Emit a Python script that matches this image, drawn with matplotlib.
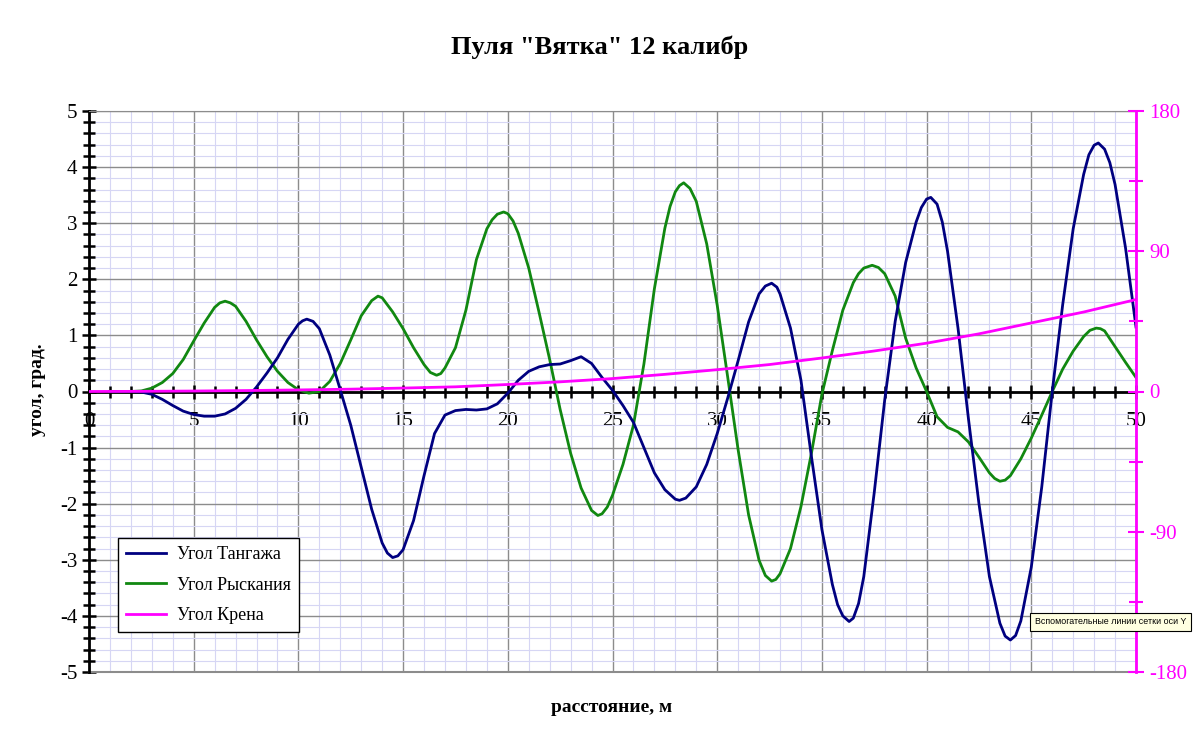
import matplotlib
matplotlib.use("Agg")
import matplotlib.pyplot as plt
from matplotlib.ticker import MultipleLocator

plt.rcParams['font.family'] = ['Liberation Serif', 'DejaVu Serif']
plt.rcParams['axes.unicode_minus'] = False

# Угол Тангажа (левая ось, град.)
pitch_x = [1, 1.5, 2, 2.5, 3, 3.5, 4, 4.5, 5, 5.5, 6, 6.5, 7, 7.5, 8, 8.5, 9, 9.5, 10, 10.2,
           10.4, 10.7, 11, 11.5, 12, 12.5, 13, 13.5, 14, 14.25, 14.5, 14.75, 15, 15.5, 16,
           16.5, 17, 17.5, 18, 18.5, 19, 19.5, 20, 20.5, 21, 21.5, 22, 22.5, 23, 23.5, 24,
           24.5, 25, 25.5, 26, 26.5, 27, 27.5, 28, 28.2, 28.5, 29, 29.5, 30, 30.5, 31, 31.5,
           32, 32.3, 32.6, 32.85, 33, 33.5, 34, 34.5, 35, 35.5, 35.75, 36, 36.3, 36.5, 36.75,
           37, 37.5, 38, 38.5, 39, 39.5, 39.75, 40, 40.2, 40.5, 40.75, 41, 41.5, 42, 42.5, 43,
           43.5, 43.75, 44, 44.25, 44.5, 45, 45.5, 46, 46.5, 47, 47.5, 47.75, 48, 48.2, 48.5,
           48.75, 49, 49.5, 50]
pitch_y = [0, 0, 0, -0.01, -0.05, -0.14, -0.25, -0.35, -0.41, -0.44, -0.44, -0.4, -0.3, -0.14,
           0.08, 0.33, 0.6, 0.93, 1.2, 1.26, 1.29, 1.25, 1.12, 0.65, 0.03, -0.6, -1.35, -2.1,
           -2.7, -2.88, -2.96, -2.93, -2.82, -2.3, -1.5, -0.75, -0.42, -0.34, -0.32, -0.33,
           -0.31, -0.22, -0.03, 0.2, 0.36, 0.44, 0.48, 0.49, 0.55, 0.62, 0.5, 0.25, 0.02,
           -0.25, -0.55, -1.0, -1.45, -1.75, -1.92, -1.94, -1.9, -1.7, -1.3, -0.75, -0.12,
           0.55, 1.24, 1.74, 1.88, 1.93, 1.86, 1.74, 1.13, 0.2, -1.16, -2.46, -3.44, -3.8,
           -4.0, -4.1, -4.04, -3.78, -3.3, -1.8, -0.15, 1.25, 2.3, 3.02, 3.28, 3.43, 3.46,
           3.34, 3.02, 2.5, 1.13, -0.49, -2.0, -3.3, -4.13, -4.36, -4.43, -4.35, -4.09, -3.13,
           -1.7, 0.0, 1.55, 2.9, 3.87, 4.22, 4.39, 4.43, 4.32, 4.08, 3.69, 2.56, 1.15]

# Угол Рыскания (левая ось, град.)
yaw_x = [1, 1.5, 2, 2.5, 3, 3.5, 4, 4.5, 5, 5.5, 6, 6.25, 6.5, 6.75, 7, 7.5, 8, 8.5, 9, 9.5,
         10, 10.5, 11, 11.5, 12, 12.5, 13, 13.5, 13.8, 14, 14.5, 15, 15.5, 16, 16.3, 16.6,
         16.8, 17, 17.5, 18, 18.5, 19, 19.25, 19.5, 19.8, 20, 20.25, 20.5, 21, 21.5, 22, 22.5,
         23, 23.5, 24, 24.3, 24.5, 24.75, 25, 25.5, 26, 26.5, 27, 27.5, 27.75, 28, 28.2, 28.4,
         28.7, 29, 29.5, 30, 30.5, 31, 31.5, 32, 32.3, 32.6, 32.8, 33, 33.5, 34, 34.5, 35,
         35.5, 36, 36.5, 36.75, 37, 37.4, 37.7, 38, 38.5, 39, 39.5, 40, 40.5, 41, 41.5, 42,
         42.5, 43, 43.25, 43.5, 43.75, 44, 44.5, 45, 45.5, 46, 46.5, 47, 47.5, 47.8, 48.1,
         48.3, 48.5, 49, 49.5, 50]
yaw_y = [0, 0, 0, 0.01, 0.06, 0.16, 0.32, 0.57, 0.9, 1.22, 1.5, 1.58, 1.61, 1.58, 1.52, 1.25,
         0.92, 0.62, 0.36, 0.16, 0.03, -0.03, 0.0, 0.18, 0.5, 0.92, 1.35, 1.62, 1.7, 1.67,
         1.42, 1.12, 0.78, 0.48, 0.34, 0.29, 0.32, 0.42, 0.78, 1.45, 2.35, 2.9, 3.06, 3.16,
         3.2, 3.17, 3.04, 2.82, 2.2, 1.4, 0.57, -0.32, -1.1, -1.72, -2.12, -2.21, -2.18,
         -2.06, -1.85, -1.3, -0.6, 0.49, 1.83, 2.91, 3.3, 3.56, 3.67, 3.72, 3.62, 3.39, 2.63,
         1.54, 0.26, -1.04, -2.2, -3.01, -3.28, -3.38, -3.35, -3.25, -2.8, -2.05, -1.1,
         -0.05, 0.73, 1.45, 1.94, 2.1, 2.2, 2.25, 2.21, 2.1, 1.7, 0.95, 0.42, 0.0, -0.45,
         -0.64, -0.72, -0.9, -1.17, -1.45, -1.55, -1.6, -1.58, -1.5, -1.2, -0.83, -0.42, 0.0,
         0.4, 0.72, 0.98, 1.09, 1.13, 1.12, 1.08, 0.8, 0.52, 0.25]

# Угол Крена (правая ось, град.)
roll_x = [0, 2.5, 5, 7.5, 10, 12.5, 15, 17.5, 20, 22.5, 25, 27.5, 30, 32.5, 35, 37.5, 40,
          42.5, 45, 47.5, 50]
roll_y = [0, 0.1, 0.3, 0.6, 1.0, 1.5, 2.2, 3.0, 4.5, 6.2, 8.3, 11.0, 14.0, 17.3, 21.5, 26.0,
          31.0, 37.0, 44.0, 51.0, 59.0]

fig = plt.figure(figsize=(12, 7.42), dpi=100)
ax = fig.add_axes([89 / 1200, 1 - 672 / 742, 1047 / 1200, 561 / 742])

ax.set_xlim(0, 50)
ax.set_ylim(-5, 5)
ax.xaxis.set_major_locator(MultipleLocator(5))
ax.xaxis.set_minor_locator(MultipleLocator(1))
ax.yaxis.set_major_locator(MultipleLocator(1))
ax.yaxis.set_minor_locator(MultipleLocator(0.2))

ax.grid(which='minor', color='#d6d6f4', lw=0.8)
ax.grid(which='major', color='#8c8c8c', lw=1.0)
ax.set_axisbelow(True)

ax.spines['bottom'].set_position(('data', 0))
ax.spines['bottom'].set_linewidth(2)
ax.spines['bottom'].set_color('black')
ax.spines['left'].set_linewidth(2)
ax.spines['top'].set_color('#8c8c8c')
ax.spines['right'].set_visible(False)
ax.axhline(-5, color='#8c8c8c', lw=1.5, clip_on=False, zorder=1)

ax.tick_params(axis='both', which='major', direction='inout', length=10, width=1.8,
               labelsize=15, color='black')
ax.tick_params(axis='both', which='minor', direction='inout', length=9, width=1.8,
               color='black')
ax.tick_params(axis='x', pad=10)

l1, = ax.plot(pitch_x, pitch_y, color='#000080', lw=2, label='Угол Тангажа', zorder=4,
              solid_joinstyle='round')
l2, = ax.plot(yaw_x, yaw_y, color='#118811', lw=2, label='Угол Рыскания', zorder=3,
              solid_joinstyle='round')

ax2 = ax.twinx()
ax2.set_ylim(-180, 180)
ax2.yaxis.set_major_locator(MultipleLocator(90))
ax2.yaxis.set_minor_locator(MultipleLocator(45))
for side in ['left', 'top', 'bottom']:
    ax2.spines[side].set_visible(False)
ax2.spines['right'].set_color('#ff00ff')
ax2.spines['right'].set_linewidth(2)
ax2.tick_params(axis='y', which='major', direction='inout', length=12, width=1.5,
                colors='#ff00ff', labelsize=15)
ax2.tick_params(axis='y', which='minor', direction='inout', length=10, width=1.5,
                colors='#ff00ff')
l3, = ax2.plot(roll_x, roll_y, color='#ff00ff', lw=2, label='Угол Крена')

leg = ax2.legend(handles=[l1, l2, l3], loc='lower left', bbox_to_anchor=(0.028, 0.071),
                 borderaxespad=0, fancybox=False, framealpha=1, edgecolor='black',
                 fontsize=13, handlelength=2.2, handletextpad=0.6, labelspacing=0.75,
                 borderpad=0.45)
leg.get_frame().set_linewidth(1)

fig.text(0.5, 1 - 47 / 742, 'Пуля "Вятка" 12 калибр', ha='center', va='center',
         fontsize=19, fontweight='bold')
fig.text(612 / 1200, 1 - 707 / 742, 'расстояние, м', ha='center', va='center',
         fontsize=14, fontweight='bold')
fig.text(38 / 1200, 1 - 390 / 742, 'угол, град.', ha='center', va='center',
         rotation=90, fontsize=14, fontweight='bold')

fig.text(1035 / 1200, 1 - 622 / 742, 'Вспомогательные линии сетки оси Y', ha='left',
         va='center', fontsize=6.4, family=['Liberation Sans', 'DejaVu Sans'],
         bbox=dict(boxstyle='square,pad=0.55', facecolor='#ffffe1', edgecolor='black', lw=0.8))

fig.savefig('out.png', dpi=100)
